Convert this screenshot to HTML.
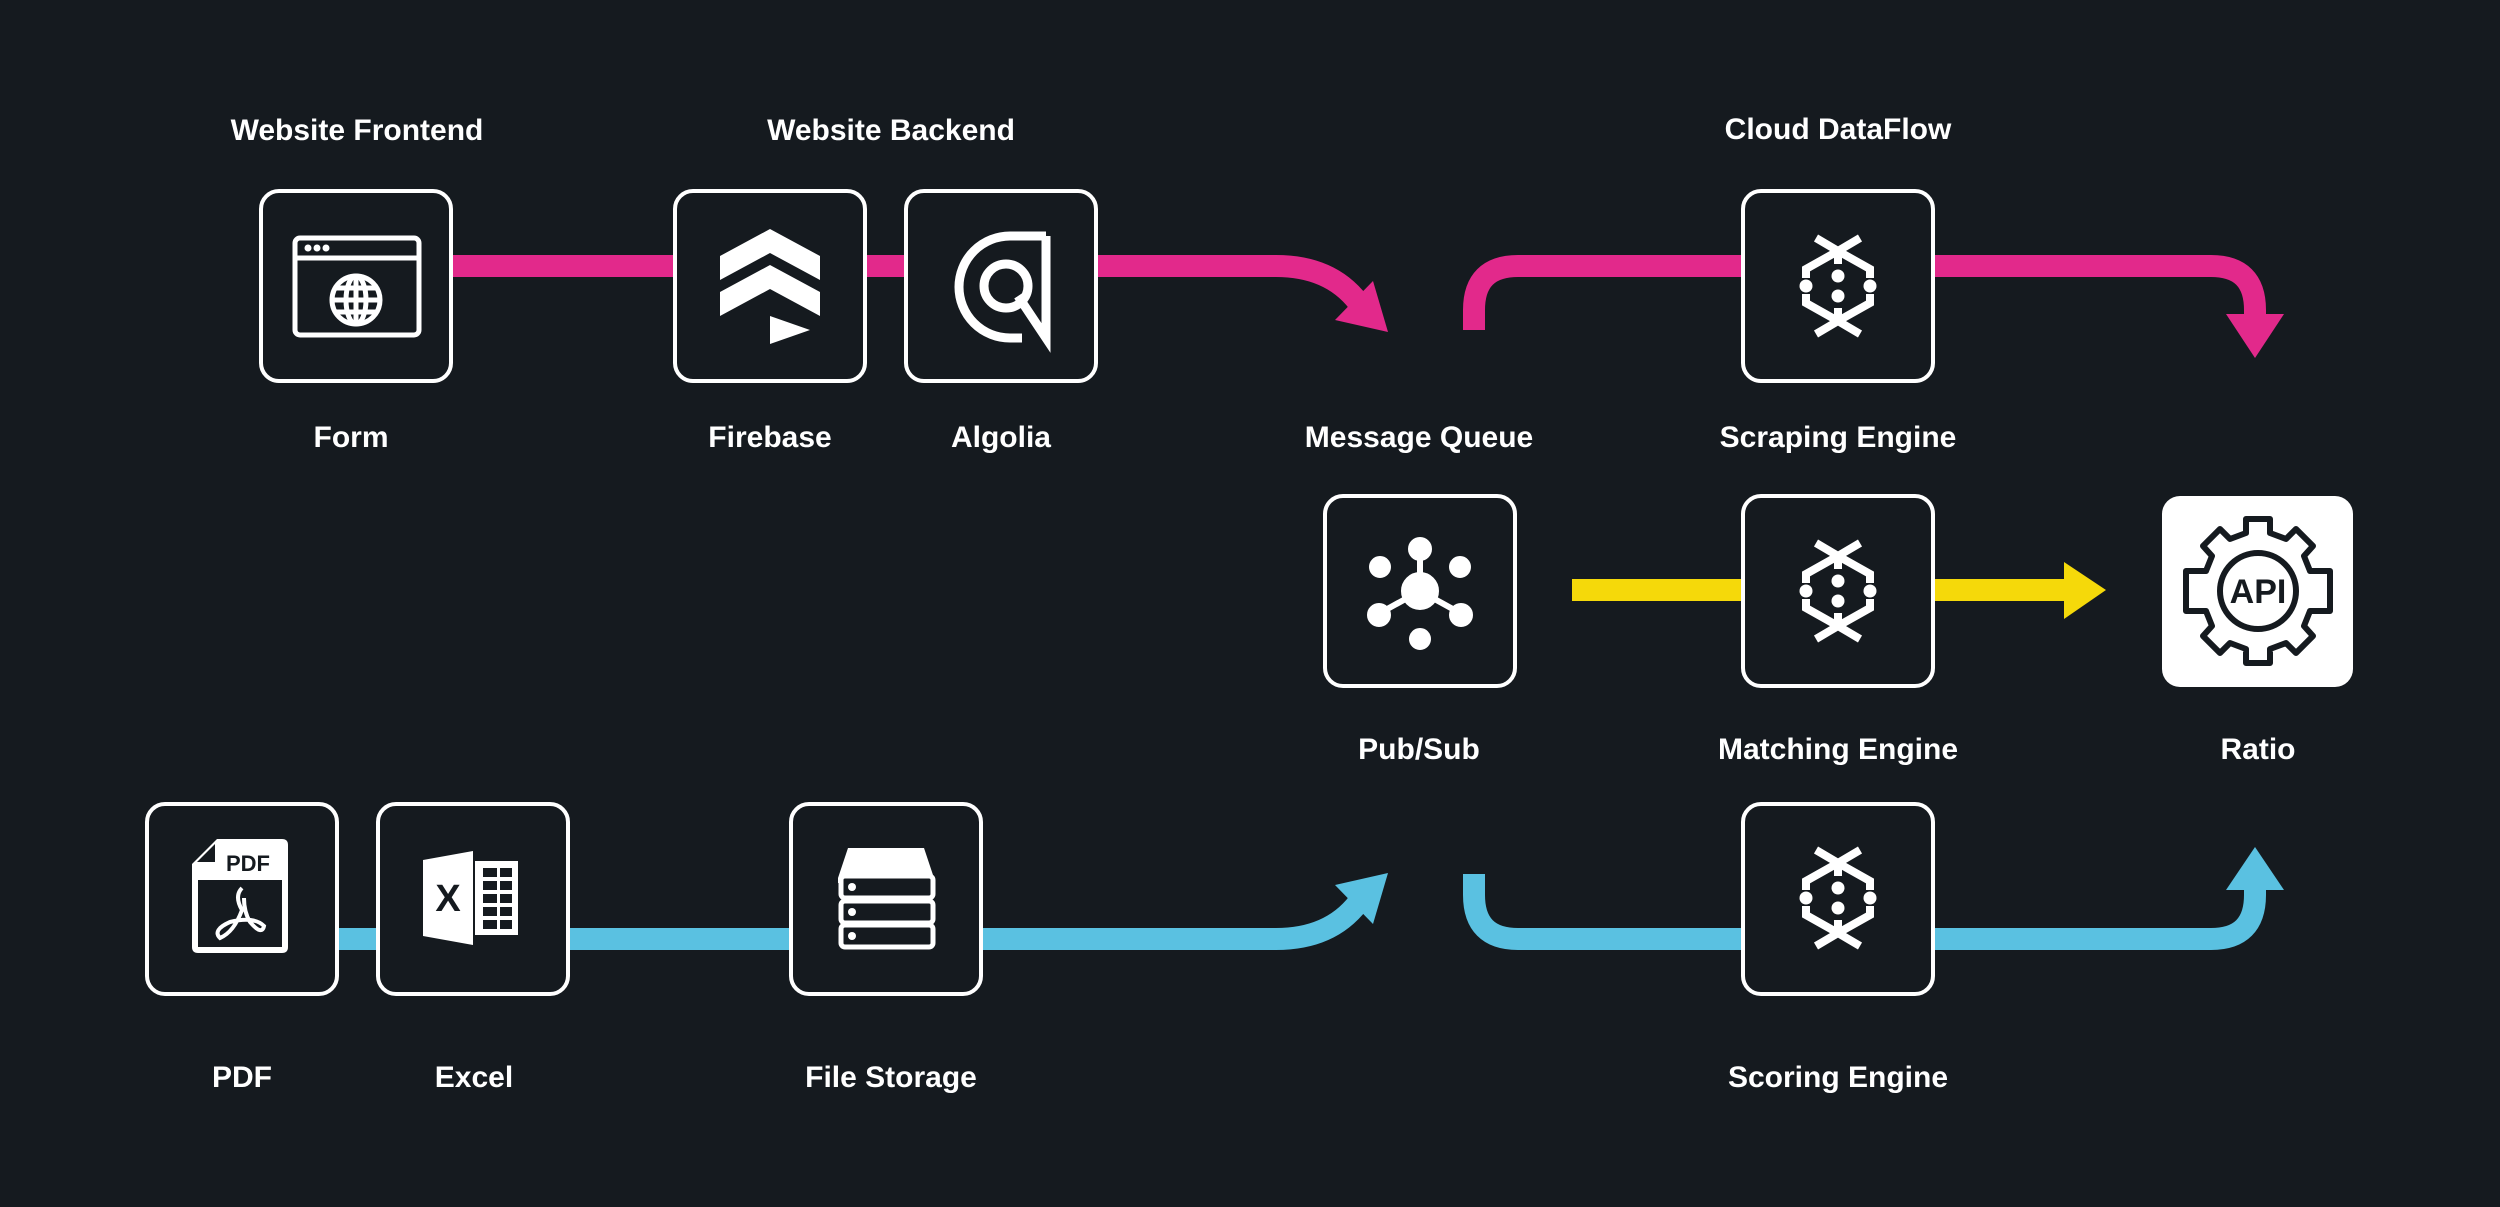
<!DOCTYPE html>
<html><head><meta charset="utf-8"><style>
html,body{margin:0;padding:0;background:#151a1f;}
svg{display:block}
text{font-family:"Liberation Sans",sans-serif;font-weight:bold;fill:#fff;font-size:30px;text-anchor:middle}
</style></head><body>
<svg width="2500" height="1207" viewBox="0 0 2500 1207" xmlns="http://www.w3.org/2000/svg">
<rect width="2500" height="1207" fill="#151a1f"/>
<!-- pink -->
<g fill="none" stroke="#e2298b" stroke-width="22">
<path d="M440 266 H1276 Q1330 266 1358 302"/>
<path d="M1474 330 V310 Q1474 266 1518 266 H2211 Q2255 266 2255 310 V320"/>
</g>
<polygon points="1335,320 1373,281 1388,332" fill="#e2298b"/>
<polygon points="2226,314 2284,314 2255,358" fill="#e2298b"/>
<!-- yellow -->
<rect x="1572" y="579" width="496" height="22" fill="#f5d90a"/>
<polygon points="2064,562 2106,590 2064,619" fill="#f5d90a"/>
<!-- blue -->
<g fill="none" stroke="#5ac1e1" stroke-width="22">
<path d="M330 939 H1276 Q1330 939 1358 903"/>
<path d="M1474 874 V895 Q1474 939 1518 939 H2211 Q2255 939 2255 895 V885"/>
</g>
<polygon points="1335,885 1373,924 1388,873" fill="#5ac1e1"/>
<polygon points="2226,890 2284,890 2255,847" fill="#5ac1e1"/>
<!-- boxes -->
<g fill="#151a1f" stroke="#fff" stroke-width="4">
<rect x="261" y="191" width="190" height="190" rx="18"/>
<rect x="675" y="191" width="190" height="190" rx="18"/>
<rect x="906" y="191" width="190" height="190" rx="18"/>
<rect x="1743" y="191" width="190" height="190" rx="18"/>
<rect x="1325" y="496" width="190" height="190" rx="18"/>
<rect x="1743" y="496" width="190" height="190" rx="18"/>
<rect x="147" y="804" width="190" height="190" rx="18"/>
<rect x="378" y="804" width="190" height="190" rx="18"/>
<rect x="791" y="804" width="190" height="190" rx="18"/>
<rect x="1743" y="804" width="190" height="190" rx="18"/>
</g>
<rect x="2162" y="496" width="191" height="191" rx="18" fill="#fff"/>
<!-- globe window -->
<g transform="translate(356,286)" fill="none" stroke="#fff" stroke-width="5">
<rect x="-61" y="-48" width="124" height="97" rx="5"/>
<line x1="-61" y1="-28" x2="63" y2="-28"/>
<circle cx="0" cy="14" r="24"/><ellipse cx="0" cy="14" rx="10" ry="24"/>
<line x1="-24" y1="14" x2="24" y2="14"/><line x1="0" y1="-10" x2="0" y2="38"/>
<line x1="-21" y1="2" x2="21" y2="2"/><line x1="-21" y1="26" x2="21" y2="26"/>
<g fill="#fff" stroke="none"><circle cx="-48" cy="-38" r="3.5"/><circle cx="-39" cy="-38" r="3.5"/><circle cx="-30" cy="-38" r="3.5"/></g>
</g>
<!-- firebase chevrons -->
<g transform="translate(770,286)" fill="#fff">
<polygon points="-50,-30 0,-57 50,-30 50,-6 0,-33 -50,-6"/>
<polygon points="-50,6 0,-21 50,6 50,30 0,3 -50,30"/>
<polygon points="0,30 40,44 0,58"/>
</g>
<!-- algolia -->
<g transform="translate(1000,286)" fill="none" stroke="#fff" stroke-width="9">
<path d="M46 -50 V52 L18 10"/>
<path d="M46 -50 H10 A50 50 0 0 0 10 52 H22"/>
<circle cx="6" cy="0" r="22"/>
</g>
<!-- dataflow icons -->
<g id="df">
<g transform="translate(1838,286)">
<g fill="none" stroke="#fff" stroke-width="8" stroke-linejoin="miter">
<path d="M-22 -48 L0 -35 L22 -48 M0 -35 L-32 -17 V-8 M0 -35 L32 -17 V-8 M0 -35 V-22"/>
<path d="M-22 48 L0 35 L22 48 M0 35 L-32 17 V8 M0 35 L32 17 V8 M0 35 V22"/>
</g>
<g fill="#fff"><circle cx="0" cy="-10" r="6.5"/><circle cx="0" cy="10" r="6.5"/><circle cx="-32" cy="0" r="6.5"/><circle cx="32" cy="0" r="6.5"/></g>
</g>
</g>
<use href="#df" transform="translate(0,305)"/>
<use href="#df" transform="translate(0,612)"/>
<!-- hub -->
<g transform="translate(1420,591)" fill="#fff" stroke="#fff" stroke-width="6">
<line x1="0" y1="0" x2="0" y2="-40"/><line x1="0" y1="0" x2="-40" y2="22"/><line x1="0" y1="0" x2="40" y2="22"/>
<circle cx="0" cy="0" r="16"/><circle cx="0" cy="-42" r="9"/><circle cx="-40" cy="-24" r="8"/><circle cx="40" cy="-24" r="8"/>
<circle cx="-41" cy="24" r="9"/><circle cx="41" cy="24" r="9"/><circle cx="0" cy="48" r="8"/>
</g>
<!-- API gear -->
<g transform="translate(2258,591)" fill="none" stroke="#151a1f" stroke-width="6">
<path d="M-12 -72 H12 V-58 L28 -52 L38 -62 L55 -45 L46 -35 L52 -20 H72 V20 H52 L46 35 L55 45 L38 62 L28 52 L12 58 V72 H-12 V58 L-28 52 L-38 62 L-55 45 L-46 35 L-52 20 H-72 V-20 H-52 L-46 -35 L-55 -45 L-38 -62 L-28 -52 L-12 -58 Z" stroke-linejoin="round"/>
<circle r="38"/>
<text x="0" y="12" style="fill:#151a1f;font-size:34px;stroke:none">API</text>
</g>
<!-- PDF -->
<g transform="translate(242,898)">
<path d="M-25 -59 H40 Q46 -59 46 -53 V49 Q46 55 40 55 H-44 Q-50 55 -50 49 V-34 Z" fill="#fff"/>
<path d="M-45 -36 L-27 -54 V-36 Z" fill="#151a1f"/>
<rect x="-44" y="-18" width="84" height="67" fill="#151a1f"/>
<text x="6" y="-27" style="fill:#151a1f;font-size:22px">PDF</text>
<path d="M0 -10 Q-8 -2 0 12 Q-8 34 -22 40 Q-30 32 -12 24 Q12 18 22 28 Q20 38 8 24 Q2 14 2 0" fill="none" stroke="#fff" stroke-width="4"/>
</g>
<!-- Excel -->
<g transform="translate(473,898)" fill="#fff">
<polygon points="-50,-38 0,-47 0,47 -50,38"/>
<text x="-25" y="13" style="fill:#151a1f;font-size:38px">X</text>
<rect x="2" y="-37" width="43" height="74"/>
<g fill="#151a1f"><rect x="10" y="-30" width="14" height="9"/><rect x="27" y="-30" width="12" height="9"/><rect x="10" y="-17" width="14" height="9"/><rect x="27" y="-17" width="12" height="9"/><rect x="10" y="-4" width="14" height="9"/><rect x="27" y="-4" width="12" height="9"/><rect x="10" y="9" width="14" height="9"/><rect x="27" y="9" width="12" height="9"/><rect x="10" y="22" width="14" height="9"/><rect x="27" y="22" width="12" height="9"/></g>
</g>
<!-- storage -->
<g transform="translate(886,898)">
<path d="M-38 -50 H38 L48 -20 V-15 H-48 V-20 Z" fill="#fff"/>
<g fill="#151a1f" stroke="#fff" stroke-width="5"><rect x="-45" y="-22" width="92" height="22" rx="4"/><rect x="-45" y="3" width="92" height="22" rx="4"/><rect x="-45" y="27" width="92" height="22" rx="4"/></g>
<g fill="#fff"><circle cx="-34" cy="-11" r="4"/><circle cx="-34" cy="14" r="4"/><circle cx="-34" cy="38" r="4"/></g>
</g>
<!-- labels -->
<text x="357" y="140">Website Frontend</text>
<text x="891" y="140">Website Backend</text>
<text x="1838" y="139">Cloud DataFlow</text>
<text x="351" y="447">Form</text>
<text x="770" y="447">Firebase</text>
<text x="1001" y="447">Algolia</text>
<text x="1419" y="447">Message Queue</text>
<text x="1838" y="447">Scraping Engine</text>
<text x="1419" y="759">Pub/Sub</text>
<text x="1838" y="759">Matching Engine</text>
<text x="2258" y="759">Ratio</text>
<text x="242" y="1087">PDF</text>
<text x="474" y="1087">Excel</text>
<text x="891" y="1087">File Storage</text>
<text x="1838" y="1087">Scoring Engine</text>
</svg>
</body></html>
